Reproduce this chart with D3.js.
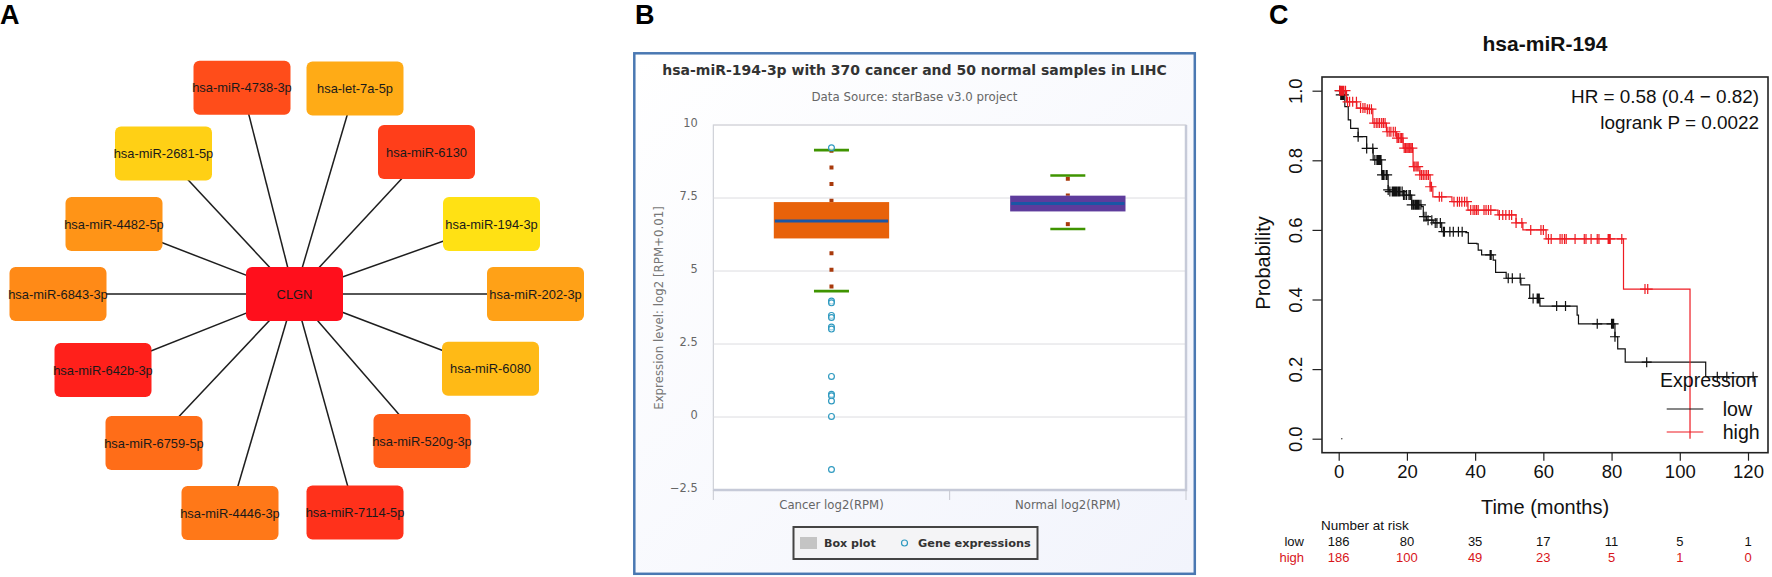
<!DOCTYPE html>
<html>
<head>
<meta charset="utf-8">
<title>CLGN miRNA figure</title>
<script src="https://cdn.jsdelivr.net/npm/d3@7"></script>
<style>
    html, body { margin: 0; padding: 0; background: #fff; }
    svg { display: block; }
    text { font-family: "Liberation Sans", Arial, sans-serif; }
    .web text { font-family: "DejaVu Sans", sans-serif; }
</style>
</head>
<body>
<div id="chart"></div>
<script>
// Panel A: network, hub first
const nodeNames = ['CLGN', 'hsa-miR-4738-3p', 'hsa-let-7a-5p', 'hsa-miR-2681-5p', 'hsa-miR-6130', 'hsa-miR-4482-5p',
    'hsa-miR-194-3p', 'hsa-miR-6843-3p', 'hsa-miR-202-3p', 'hsa-miR-642b-3p', 'hsa-miR-6080', 'hsa-miR-6759-5p',
    'hsa-miR-520g-3p', 'hsa-miR-4446-3p', 'hsa-miR-7114-5p'];
const nodeX = [0, -52.5, 60.5, -131, 132, -180.5, 197, -236.5, 241, -191.5, 196, -140.5, 127.5, -64.5, 60.5];
const nodeY = [0, -206.3, -205.5, -140.5, -142, -70, -70, 0, 0, 76, 74.7, 149, 147, 219, 218.5];
const nodeScore = [0, 0.29, 0.73, 0.90, 0.22, 0.62, 0.98, 0.575, 0.68, 0.08, 0.80, 0.44, 0.365, 0.49, 0.16];

// Panel B: box plot
const boxCategories = ['Cancer log2(RPM)', 'Normal log2(RPM)'];
const boxQ1 = [6.115, 7.04];
const boxMedian = [6.71, 7.31];
const boxQ3 = [7.36, 7.58];
const boxLow = [4.31, 6.44];
const boxHigh = [9.14, 8.27];
const cancerOutliers = [9.22, 3.97, 3.91, 3.48, 3.41, 3.08, 3.01, 1.39, 0.78, 0.73, 0.55, 0.02, -1.8];
const boxTicks = [10, 7.5, 5, 2.5, 0, -2.5];
const boxTickLabels = ['10', '7.5', '5', '2.5', '0', '\u22122.5'];

// Panel C: Kaplan-Meier curves
const lowTimes = [0, 0.5, 1.8, 2.8, 3.5, 5.7, 8.2, 10.1, 12.6, 14.5, 15, 19, 21.4, 24.3, 24.8, 25.8, 27.7, 30.2, 37.3, 38,
    40.5, 40.9, 41.9, 45.3, 46, 49.1, 53.4, 56, 59, 69.9, 70.3, 81, 81.8, 84, 107.6, 122.7];
const lowSurv = [1, 0.988, 0.954, 0.916, 0.892, 0.868, 0.834, 0.801, 0.758, 0.715, 0.71, 0.70, 0.672, 0.667, 0.638, 0.628,
    0.62, 0.595, 0.592, 0.561, 0.56, 0.542, 0.528, 0.513, 0.478, 0.461, 0.442, 0.403, 0.381, 0.355, 0.33, 0.293, 0.258,
    0.22, 0.178, 0.178];
const lowCensor = [0.3, 0.6, 0.9, 1.2, 1.5, 5.7, 8.2, 10, 10.6, 11.2, 11.5, 11.8, 12.1, 12.4, 12.7, 13, 13.3, 13.9, 14.2,
    14.5, 15, 15.7, 16, 16.2, 16.5, 16.8, 17, 17.4, 17.7, 18, 18.6, 19, 19.4, 19.9, 20.6, 21, 21.4, 21.8, 22, 22.4, 22.7,
    23, 23.3, 23.6, 24.1, 25, 25.6, 26.2, 27.3, 28.3, 28.8, 29.8, 30.7, 31, 32.6, 33.6, 35.1, 36.2, 44.4, 44.7, 49.7,
    50.9, 53.2, 57, 58.2, 58.5, 58.8, 63.9, 66.5, 75.8, 80, 80.3, 80.6, 81, 90.3, 111, 113.8, 121.5];
const highTimes = [0, 2.3, 5.3, 8.2, 10, 14, 17, 18.9, 21.8, 23.8, 26.8, 27.6, 33.2, 37.9, 46.7, 52, 54, 60.8, 83.5, 103];
const highSurv = [1, 0.968, 0.95, 0.947, 0.907, 0.882, 0.864, 0.835, 0.782, 0.758, 0.724, 0.695, 0.681, 0.657, 0.643, 0.62,
    0.60, 0.574, 0.43, 0];
const highCensor = [0.3, 0.6, 0.9, 1.2, 1.5, 2, 2.6, 3.2, 4.1, 5.2, 6.4, 7.1, 7.7, 8.4, 9, 9.6, 10.4, 11, 11.5, 12, 12.6,
    13.1, 13.6, 14.2, 14.8, 15.3, 16, 16.6, 17.1, 17.5, 18, 18.4, 18.8, 19.2, 19.6, 20, 20.4, 20.8, 21.2, 21.6, 22, 22.4,
    22.9, 23.3, 23.8, 24.3, 24.8, 25.3, 25.8, 26.3, 26.8, 27.2, 29.5, 30.2, 33.8, 34.8, 35.4, 36.1, 36.9, 37.6, 38.7,
    39.4, 39.9, 40.4, 40.9, 42.6, 43.2, 43.9, 44.6, 47.1, 48.1, 49, 50, 50.7, 52, 53.7, 56.3, 59.3, 60, 61.5, 62.3, 64.9,
    65.5, 66.2, 66.7, 69.3, 72, 72.5, 74, 75.8, 76.3, 79, 79.3, 79.6, 83, 89.8, 90.6];
const timeTicks = [0, 20, 40, 60, 80, 100, 120];
const survTicks = [0, 0.2, 0.4, 0.6, 0.8, 1];
const riskLow = [186, 80, 35, 17, 11, 5, 1];
const riskHigh = [186, 100, 49, 23, 5, 1, 0];

const svg = d3.select('#chart').append('svg')
    .attr('width', 1772)
    .attr('height', 577);

function panelLetter(letter, x) {
    svg.append('text')
        .attr('x', x)
        .attr('y', 24)
        .attr('font-size', '27px')
        .attr('font-weight', 'bold')
        .attr('fill', '#000')
        .text(letter);
}

panelLetter('A', 0);
panelLetter('B', 635);
panelLetter('C', 1269);

renderNetwork();
renderBoxPlot();
renderSurvival();

// Panel A
function renderNetwork() {
    const x = d3.scaleLinear().domain([-300, 300]).range([-5.5, 594.5]);
    const y = d3.scaleLinear().domain([-300, 300]).range([-6, 594]);
    const color = d3.scaleLinear().domain([0, 1]).range(['#ff0f1c', '#ffe514']);
    const boxW = 97;
    const boxH = 54;
    const g = svg.append('g');

    g.selectAll('line')
        .data(nodeNames.slice(1))
        .enter()
        .append('line')
        .attr('x1', x(0))
        .attr('y1', y(0))
        .attr('x2', (d, i) => x(nodeX[i + 1]))
        .attr('y2', (d, i) => y(nodeY[i + 1]))
        .attr('stroke', '#1e1e1e')
        .attr('stroke-width', 1.5);

    const nodes = g.selectAll('g.node')
        .data(nodeNames)
        .enter()
        .append('g')
        .attr('class', 'node')
        .attr('transform', (d, i) => `translate(${x(nodeX[i])},${y(nodeY[i])})`);

    nodes.append('rect')
        .attr('x', -boxW / 2)
        .attr('y', -boxH / 2)
        .attr('width', boxW)
        .attr('height', boxH)
        .attr('rx', 6)
        .attr('fill', (d, i) => color(nodeScore[i]));

    nodes.append('text')
        .attr('text-anchor', 'middle')
        .attr('y', 4.5)
        .attr('font-size', '12.9px')
        .attr('fill', '#1a1a1a')
        .text(d => d);
}

// Panel B
function renderBoxPlot() {
    const left = 713.3, right = 1186, top = 125, bottom = 490;
    const g = svg.append('g').attr('class', 'web');

    const grad = svg.append('defs').append('linearGradient')
        .attr('id', 'webBg')
        .attr('x1', 0).attr('y1', 0).attr('x2', 1).attr('y2', 1);
    grad.append('stop').attr('offset', '0%').attr('stop-color', '#ffffff');
    grad.append('stop').attr('offset', '100%').attr('stop-color', '#f2f4fc');

    g.append('rect')
        .attr('x', 634.3).attr('y', 53.3)
        .attr('width', 560.5).attr('height', 520.5)
        .attr('fill', 'url(#webBg)')
        .attr('stroke', '#4a78b2')
        .attr('stroke-width', 2.5);

    g.append('rect')
        .attr('x', left).attr('y', top)
        .attr('width', right - left).attr('height', bottom - top)
        .attr('fill', '#fff')
        .attr('stroke', '#c6c8d0');

    const xScale = d3.scaleBand().domain(boxCategories).range([left, right]);
    const yScale = d3.scaleLinear().domain([-2.5, 10]).range([bottom, top]);
    const boxW = xScale.bandwidth() * 0.488;
    const capW = 35;
    const center = d => xScale(d) + xScale.bandwidth() / 2;

    // grid and y labels
    g.selectAll('line.grid')
        .data(boxTicks)
        .enter()
        .append('line')
        .attr('class', 'grid')
        .attr('x1', left).attr('x2', right)
        .attr('y1', d => yScale(d)).attr('y2', d => yScale(d))
        .attr('stroke', '#dcdce0');

    g.selectAll('text.ytick')
        .data(boxTicks)
        .enter()
        .append('text')
        .attr('class', 'ytick')
        .attr('x', 697.7)
        .attr('y', d => yScale(d) + 2)
        .attr('text-anchor', 'end')
        .attr('font-size', '11.4px')
        .attr('fill', '#666')
        .text((d, i) => boxTickLabels[i]);

    // heavy bottom and right edges
    g.append('path')
        .attr('d', `M${right},${top}V${bottom}H${left}`)
        .attr('fill', 'none')
        .attr('stroke', '#c6cad8')
        .attr('stroke-width', 2.5);

    // category ticks
    [left, (left + right) / 2, right].forEach(tx => {
        g.append('line')
            .attr('x1', tx).attr('x2', tx)
            .attr('y1', bottom).attr('y2', bottom + 10)
            .attr('stroke', '#c6c8d0');
    });

    g.selectAll('text.xtick')
        .data(boxCategories)
        .enter()
        .append('text')
        .attr('class', 'xtick')
        .attr('x', center)
        .attr('y', 509)
        .attr('text-anchor', 'middle')
        .attr('font-size', '11.7px')
        .attr('fill', '#666')
        .text(d => d);

    // whiskers, dotted, offsets tuned to line the dots up with the source
    const upperOffset = [1.4, 15.5];
    const lowerOffset = [4, 6];
    boxCategories.forEach((cat, i) => {
        g.append('line')
            .attr('x1', center(cat)).attr('x2', center(cat))
            .attr('y1', yScale(boxHigh[i])).attr('y2', yScale(boxQ3[i]))
            .attr('stroke', '#a83a0c')
            .attr('stroke-width', 4)
            .attr('stroke-dasharray', '4 12.7')
            .attr('stroke-dashoffset', upperOffset[i]);
        g.append('line')
            .attr('x1', center(cat)).attr('x2', center(cat))
            .attr('y1', yScale(boxQ1[i])).attr('y2', yScale(boxLow[i]))
            .attr('stroke', '#a83a0c')
            .attr('stroke-width', 4)
            .attr('stroke-dasharray', '4 12.7')
            .attr('stroke-dashoffset', lowerOffset[i]);
        [boxHigh[i], boxLow[i]].forEach(v => {
            g.append('line')
                .attr('x1', center(cat) - capW / 2).attr('x2', center(cat) + capW / 2)
                .attr('y1', yScale(v)).attr('y2', yScale(v))
                .attr('stroke', '#3f9400')
                .attr('stroke-width', 2.6);
        });
    });

    const boxFill = ['#e8620a', '#5e3c9c'];
    g.selectAll('rect.box')
        .data(boxCategories)
        .enter()
        .append('rect')
        .attr('class', 'box')
        .attr('x', d => center(d) - boxW / 2)
        .attr('width', boxW)
        .attr('y', (d, i) => yScale(boxQ3[i]))
        .attr('height', (d, i) => yScale(boxQ1[i]) - yScale(boxQ3[i]))
        .attr('fill', (d, i) => boxFill[i]);

    g.selectAll('line.median')
        .data(boxCategories)
        .enter()
        .append('line')
        .attr('class', 'median')
        .attr('x1', d => center(d) - boxW / 2 + 1)
        .attr('x2', d => center(d) + boxW / 2 - 1)
        .attr('y1', (d, i) => yScale(boxMedian[i]))
        .attr('y2', (d, i) => yScale(boxMedian[i]))
        .attr('stroke', '#1a56a5')
        .attr('stroke-width', 3);

    g.selectAll('circle.outlier')
        .data(cancerOutliers)
        .enter()
        .append('circle')
        .attr('class', 'outlier')
        .attr('cx', center(boxCategories[0]))
        .attr('cy', d => yScale(d))
        .attr('r', 2.9)
        .attr('fill', '#fff')
        .attr('fill-opacity', 0.6)
        .attr('stroke', '#2f9ac0')
        .attr('stroke-width', 1.2);

    // titles
    g.append('text')
        .attr('x', 914.5).attr('y', 74.5)
        .attr('text-anchor', 'middle')
        .attr('font-size', '14px')
        .attr('font-weight', 'bold')
        .attr('fill', '#333')
        .text('hsa-miR-194-3p with 370 cancer and 50 normal samples in LIHC');

    g.append('text')
        .attr('x', 914.5).attr('y', 100.5)
        .attr('text-anchor', 'middle')
        .attr('font-size', '11.8px')
        .attr('fill', '#666')
        .text('Data Source: starBase v3.0 project');

    g.append('text')
        .attr('transform', 'translate(663,308) rotate(-90)')
        .attr('text-anchor', 'middle')
        .attr('font-size', '11.8px')
        .attr('fill', '#777')
        .text('Expression level: log2 [RPM+0.01]');

    // legend
    const legend = g.append('g');
    legend.append('rect')
        .attr('x', 793.5).attr('y', 527)
        .attr('width', 244).attr('height', 32)
        .attr('fill', '#f4f4f6')
        .attr('stroke', '#444')
        .attr('stroke-width', 2);
    legend.append('rect')
        .attr('x', 800).attr('y', 537)
        .attr('width', 17).attr('height', 12)
        .attr('fill', '#c4c4c4');
    legend.append('text')
        .attr('x', 824).attr('y', 547)
        .attr('font-size', '11.1px')
        .attr('font-weight', 'bold')
        .attr('fill', '#333')
        .text('Box plot');
    legend.append('circle')
        .attr('cx', 904.5).attr('cy', 543)
        .attr('r', 3)
        .attr('fill', 'none')
        .attr('stroke', '#2f9ac0')
        .attr('stroke-width', 1.2);
    legend.append('text')
        .attr('x', 918).attr('y', 547)
        .attr('font-size', '11.3px')
        .attr('font-weight', 'bold')
        .attr('fill', '#333')
        .text('Gene expressions');
}

// Panel C
function renderSurvival() {
    const g = svg.append('g');
    const xScale = d3.scaleLinear().domain([0, 120]).range([1338.7, 1748]);
    const yScale = d3.scaleLinear().domain([0, 1]).range([438.7, 90.7]);
    const frame = { left: 1322, right: 1768, top: 77, bottom: 452.7 };

    g.append('rect')
        .attr('x', frame.left).attr('y', frame.top)
        .attr('width', frame.right - frame.left)
        .attr('height', frame.bottom - frame.top)
        .attr('fill', 'none')
        .attr('stroke', '#222')
        .attr('stroke-width', 1.6);

    // axes
    const xAxis = g.append('g')
        .attr('transform', `translate(0,${frame.bottom})`)
        .call(d3.axisBottom(xScale).tickValues(timeTicks).tickFormat(d3.format('d')).tickSize(8).tickPadding(4));
    const yAxis = g.append('g')
        .attr('transform', `translate(${frame.left},0)`)
        .call(d3.axisLeft(yScale).tickValues(survTicks).tickFormat(d3.format('.1f')).tickSize(9.5));
    xAxis.select('.domain').remove();
    yAxis.select('.domain').remove();
    xAxis.selectAll('line').attr('stroke', '#222').attr('stroke-width', 1.2);
    yAxis.selectAll('line').attr('stroke', '#222').attr('stroke-width', 1.2);
    xAxis.selectAll('text')
        .attr('font-family', '"Liberation Sans", Arial, sans-serif')
        .attr('font-size', '18.5px')
        .attr('fill', '#111');
    // R style: y labels read sideways
    yAxis.selectAll('text')
        .attr('font-family', '"Liberation Sans", Arial, sans-serif')
        .attr('font-size', '18.5px')
        .attr('fill', '#111')
        .attr('x', 0)
        .attr('y', 0)
        .attr('dy', '0.35em')
        .attr('text-anchor', 'middle')
        .attr('transform', `translate(${1295.7 - frame.left},0) rotate(-90)`);

    const stepLine = d3.line()
        .x(d => xScale(d[0]))
        .y(d => yScale(d[1]))
        .curve(d3.curveStepAfter);

    function survivalAt(times, surv, t) {
        return surv[d3.bisectRight(times, t) - 1];
    }

    function drawCurve(times, surv, censor, color) {
        g.append('path')
            .attr('d', stepLine(d3.zip(times, surv)))
            .attr('fill', 'none')
            .attr('stroke', color)
            .attr('stroke-width', 1.2);
        g.append('path')
            .attr('d', censor.map(t => {
                const px = xScale(t);
                const py = yScale(survivalAt(times, surv, t));
                return `M${px - 5},${py}H${px + 5}M${px},${py - 5}V${py + 5}`;
            }).join(''))
            .attr('fill', 'none')
            .attr('stroke', color)
            .attr('stroke-width', 1.2);
    }

    drawCurve(lowTimes, lowSurv, lowCensor, '#111');
    drawCurve(highTimes, highSurv, highCensor, '#ee1b22');

    // stray dot at the bottom of the plot
    g.append('circle')
        .attr('cx', xScale(0.9)).attr('cy', yScale(0))
        .attr('r', 0.8)
        .attr('fill', '#444');

    // labels
    g.append('text')
        .attr('x', 1545).attr('y', 51)
        .attr('text-anchor', 'middle')
        .attr('font-size', '21px')
        .attr('font-weight', 'bold')
        .attr('fill', '#111')
        .text('hsa-miR-194');
    g.append('text')
        .attr('transform', 'translate(1270,263) rotate(-90)')
        .attr('text-anchor', 'middle')
        .attr('font-size', '20px')
        .attr('fill', '#111')
        .text('Probability');
    g.append('text')
        .attr('x', 1545).attr('y', 514)
        .attr('text-anchor', 'middle')
        .attr('font-size', '20px')
        .attr('fill', '#111')
        .text('Time (months)');
    g.append('text')
        .attr('x', 1759).attr('y', 103)
        .attr('text-anchor', 'end')
        .attr('font-size', '18.9px')
        .attr('fill', '#111')
        .text('HR = 0.58 (0.4 \u2212 0.82)');
    g.append('text')
        .attr('x', 1759).attr('y', 129)
        .attr('text-anchor', 'end')
        .attr('font-size', '18.9px')
        .attr('fill', '#111')
        .text('logrank P = 0.0022');

    // legend
    g.append('text')
        .attr('x', 1660).attr('y', 387)
        .attr('font-size', '19.6px')
        .attr('fill', '#111')
        .text('Expression');
    [['low', '#111', 409], ['high', '#ee1b22', 432]].forEach(row => {
        g.append('line')
            .attr('x1', 1666.7).attr('x2', 1703.3)
            .attr('y1', row[2]).attr('y2', row[2])
            .attr('stroke', row[1])
            .attr('stroke-width', 1.2);
        g.append('text')
            .attr('x', 1722.7).attr('y', row[2] + 7)
            .attr('font-size', '19.6px')
            .attr('fill', '#111')
            .text(row[0]);
    });

    // number at risk table
    g.append('text')
        .attr('x', 1321).attr('y', 530)
        .attr('font-size', '13.5px')
        .attr('fill', '#111')
        .text('Number at risk');
    [['low', riskLow, '#111', 546], ['high', riskHigh, '#d8151b', 562]].forEach(row => {
        g.append('text')
            .attr('x', 1304).attr('y', row[3])
            .attr('text-anchor', 'end')
            .attr('font-size', '13px')
            .attr('fill', row[2])
            .text(row[0]);
        g.selectAll(null)
            .data(row[1])
            .enter()
            .append('text')
            .attr('x', (d, i) => xScale(timeTicks[i]))
            .attr('y', row[3])
            .attr('text-anchor', 'middle')
            .attr('font-size', '13px')
            .attr('fill', row[2])
            .text(d => d);
    });
}
</script>
</body>
</html>
